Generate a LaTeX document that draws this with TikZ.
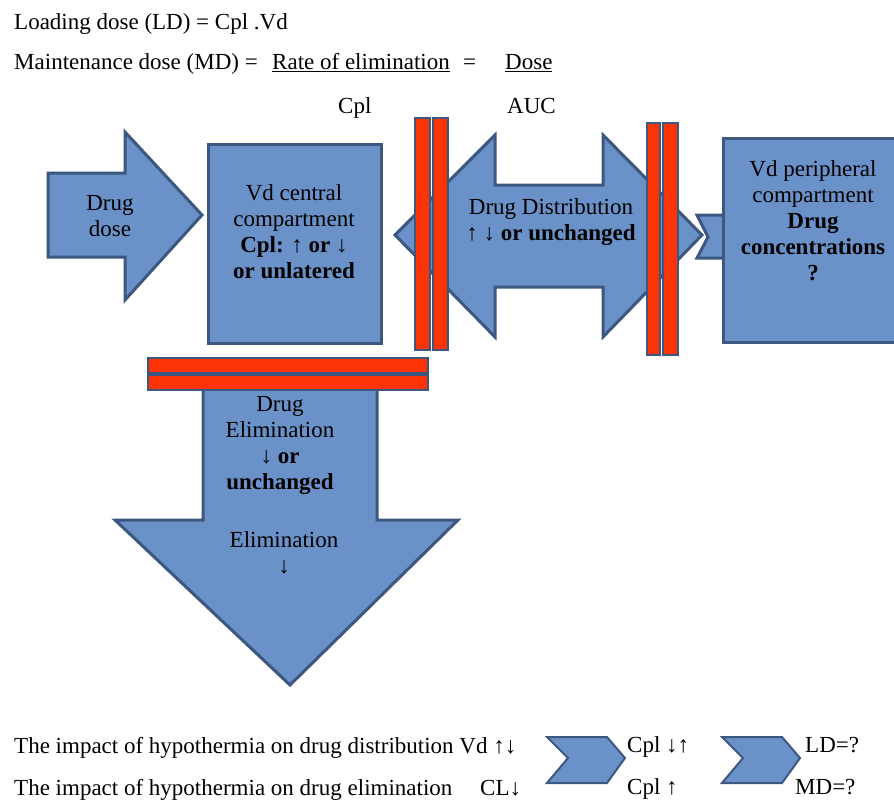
\documentclass[tikz,border=0pt]{standalone}
\usepackage{fontspec}
\setmainfont{Liberation Serif}
\definecolor{boxblue}{RGB}{106,145,200}
\definecolor{edgeblue}{RGB}{60,88,128}
\definecolor{barred}{RGB}{250,52,5}
\tikzset{
  txt/.style={font=\fontsize{23}{26}\selectfont,inner sep=0pt},
  blk/.style={fill=boxblue,draw=edgeblue,line width=3pt,line join=miter},
  redbar/.style={fill=barred,draw=edgeblue,line width=2.5pt}
}
\begin{document}
\begin{tikzpicture}[x=1pt,y=-1pt]
  \useasboundingbox (0,0) rectangle (894,800);

  % formulas on top
  \node[txt,anchor=base west] (ld) at (14,30) {Loading dose (LD) = Cpl .Vd};
  \node[txt,anchor=base west] (md) at (14,70) {Maintenance dose (MD) =};
  \node[txt,anchor=base west] (rate) at (272,70) {\underline{Rate of elimination}};
  \node[txt,anchor=base west] (eq) at (463,70) {=};
  \node[txt,anchor=base west] (dosenum) at (505,70) {\underline{Dose}};
  \node[txt,anchor=base west] (cplden) at (338,113) {Cpl};
  \node[txt,anchor=base west] (auc) at (507,113) {AUC};

  % drug dose arrow and central box
  \draw[blk] (48,173) -- (125,173) -- (125,132) -- (202,215) -- (125,300)
    -- (125,257) -- (48,257) -- cycle;
  \node[txt,align=center] (dose) at (110,216) {Drug\\dose};

  \draw[blk] (208,144) rectangle (381,343);
  \node[txt,align=center] (central) at (294,232)
    {Vd central\\compartment\\\textbf{Cpl: ↑ or ↓}\\\textbf{or unlatered}};

  % distribution
  \draw[blk] (395,235) -- (495,135) -- (495,185) -- (603,185) -- (603,135)
    -- (702,235) -- (603,337) -- (603,287) -- (495,287) -- (495,337) -- cycle;
  \node[txt,align=center] (distr) at (551,222)
    {Drug Distribution\\↑ ↓ \textbf{or unchanged}};

  \draw[blk] (697,215) -- (730,215) -- (730,258) -- (697,258) -- (708,237) -- cycle;
  \draw[blk] (723,138) rectangle (910,342);
  \node[txt,align=center] (periph) at (813,221)
    {Vd peripheral\\compartment\\\textbf{Drug}\\\textbf{concentrations}\\\textbf{?}};

  \draw[redbar] (415,118) rectangle (430,350);
  \draw[redbar] (433,118) rectangle (448,350);
  \draw[redbar] (647,123) rectangle (660,355);
  \draw[redbar] (663,123) rectangle (678,355);

  % elimination
  \draw[blk] (203,364) -- (377,364) -- (377,520) -- (458,520) -- (290,685)
    -- (115,520) -- (203,520) -- cycle;
  \draw[redbar] (148,358) rectangle (428,373);
  \draw[redbar] (148,375) rectangle (428,390);
  \node[txt,align=center] (elim) at (280,446)
    {Drug\\Elimination\\↓ \textbf{or}\\\textbf{unchanged}};
  \node[txt,align=center] (elim2) at (284,553) {Elimination\\↓};

  % bottom lines
  \node[txt,anchor=base west] (impdist) at (14,753)
    {The impact of hypothermia on drug distribution Vd ↑↓};
  \node[txt,anchor=base west] (impelim) at (14,795)
    {The impact of hypothermia on drug elimination};
  \node[txt,anchor=base west] (cl) at (480,795) {CL↓};

  \draw[blk,line width=2pt] (547,737) -- (607,737) -- (625,758) -- (607,783)
    -- (547,783) -- (568,758) -- cycle;
  \draw[blk,line width=2pt] (722,737) -- (782,737) -- (800,758) -- (782,783)
    -- (722,783) -- (743,758) -- cycle;

  \node[txt,anchor=base west] (cpl1) at (627,752) {Cpl ↓↑};
  \node[txt,anchor=base west] (cpl2) at (627,794) {Cpl ↑};
  \node[txt,anchor=base west] (ldq) at (805,752) {LD=?};
  \node[txt,anchor=base west] (mdq) at (795,794) {MD=?};
\end{tikzpicture}
\end{document}
